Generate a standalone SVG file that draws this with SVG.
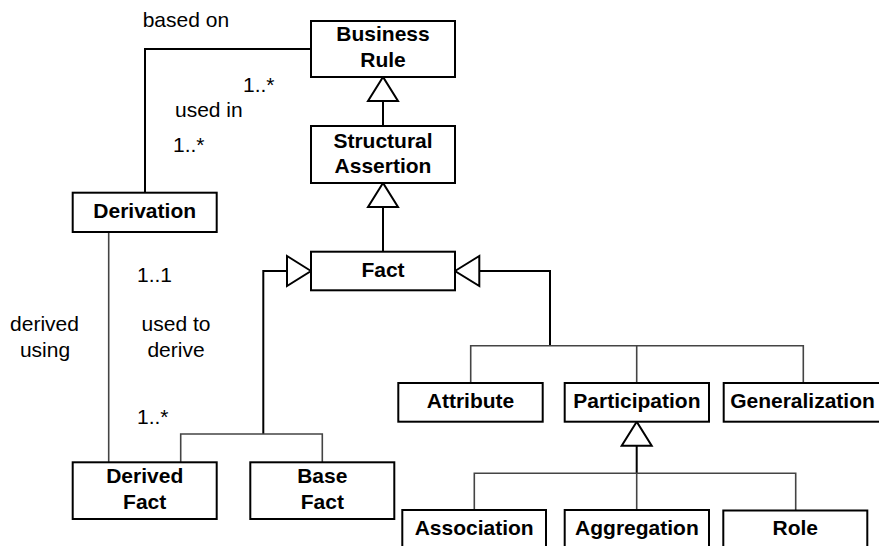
<svg xmlns="http://www.w3.org/2000/svg" width="879" height="546" viewBox="0 0 879 546">
  <style>
    .box rect { fill: #fff; stroke: #000; stroke-width: 2; }
    .box text { font-family: "Liberation Sans", Arial, sans-serif; font-weight: bold; font-size: 21px; fill: #000; text-anchor: middle; }
    .lbl { font-family: "Liberation Sans", Arial, sans-serif; font-size: 21px; fill: #000; }
    .mid { text-anchor: middle; }
    .wire { fill: none; stroke: #000; stroke-width: 2; }
    .thin { fill: none; stroke: #444; stroke-width: 1.6; }
    .gen { fill: #fff; stroke: #000; stroke-width: 2; stroke-linejoin: miter; }
  </style>
  <rect width="879" height="546" fill="#fff"/>

  <g id="connectors">
    <!-- association Derivation - Business Rule -->
    <path class="wire" d="M311,49 H145 V193"/>
    <!-- association Derivation - Derived Fact -->
    <path class="thin" d="M108.7,232 V462"/>
    <!-- Structural Assertion -> Business Rule -->
    <path class="wire" d="M383,101 V126"/>
    <polygon class="gen" points="383,77 368,101 398,101"/>
    <!-- Fact -> Structural Assertion -->
    <path class="wire" d="M383,207 V252"/>
    <polygon class="gen" points="383,183 368,207 398,207"/>
    <!-- Derived / Base Fact -> Fact -->
    <path class="wire" d="M287,271 H263.3 V434"/>
    <path class="thin" d="M180.7,462 V434 H322.3 V462"/>
    <polygon class="gen" points="311,271 287,256 287,286"/>
    <!-- Attribute / Participation / Generalization -> Fact -->
    <path class="wire" d="M479.3,271 H550 V345.7"/>
    <path class="thin" d="M470.7,383 V345.7 H803.3 V383 M636.7,345.7 V383"/>
    <polygon class="gen" points="455,271 479.3,256 479.3,286"/>
    <!-- Association / Aggregation / Role -> Participation -->
    <path class="wire" d="M636.7,445.7 V473.3"/>
    <path class="thin" d="M636.7,473.3 V510 M474.3,510 V473.3 H795.7 V510"/>
    <polygon class="gen" points="636.7,421.7 621.7,445.7 651.7,445.7"/>
  </g>

  <g id="labels">
    <text class="lbl" x="142.7" y="26.7">based on</text>
    <text class="lbl" x="243" y="91.7">1..*</text>
    <text class="lbl" x="175" y="116.7">used in</text>
    <text class="lbl" x="173" y="151.7">1..*</text>
    <text class="lbl" x="137" y="281.7">1..1</text>
    <text class="lbl mid" x="44.5" y="330.7">derived</text>
    <text class="lbl mid" x="45" y="356.7">using</text>
    <text class="lbl mid" x="176" y="330.7">used to</text>
    <text class="lbl mid" x="176" y="356.7">derive</text>
    <text class="lbl" x="137" y="424">1..*</text>
  </g>

  <g id="business-rule" class="box">
    <rect x="311" y="21" width="144" height="56"/>
    <text x="383" y="41">Business</text>
    <text x="383" y="67">Rule</text>
  </g>
  <g id="structural-assertion" class="box">
    <rect x="311" y="126" width="144" height="57"/>
    <text x="383" y="147.5">Structural</text>
    <text x="383" y="173.3">Assertion</text>
  </g>
  <g id="derivation" class="box">
    <rect x="72.7" y="192.7" width="144" height="39.3"/>
    <text x="144.7" y="218.3">Derivation</text>
  </g>
  <g id="fact" class="box">
    <rect x="311" y="251.7" width="144" height="38.6"/>
    <text x="383" y="276.7">Fact</text>
  </g>
  <g id="derived-fact" class="box">
    <rect x="72.7" y="462.3" width="144" height="56.7"/>
    <text x="144.7" y="483.3">Derived</text>
    <text x="144.7" y="509.3">Fact</text>
  </g>
  <g id="base-fact" class="box">
    <rect x="250.3" y="462.3" width="144" height="56.7"/>
    <text x="322.3" y="483.3">Base</text>
    <text x="322.3" y="509.3">Fact</text>
  </g>
  <g id="attribute" class="box">
    <rect x="398.3" y="383" width="144.4" height="38.7"/>
    <text x="470.5" y="408.3">Attribute</text>
  </g>
  <g id="participation" class="box">
    <rect x="564.7" y="383" width="144.3" height="38.7"/>
    <text x="636.9" y="408.3">Participation</text>
  </g>
  <g id="generalization" class="box">
    <rect x="723.7" y="383" width="160" height="38.7"/>
    <text x="802.5" y="408.3">Generalization</text>
  </g>
  <g id="association" class="box">
    <rect x="402.3" y="510" width="143.7" height="50"/>
    <text x="474.2" y="535">Association</text>
  </g>
  <g id="aggregation" class="box">
    <rect x="564.7" y="510" width="144.3" height="50"/>
    <text x="636.9" y="535">Aggregation</text>
  </g>
  <g id="role" class="box">
    <rect x="723.3" y="510.5" width="144" height="50"/>
    <text x="795.3" y="535">Role</text>
  </g>
</svg>
